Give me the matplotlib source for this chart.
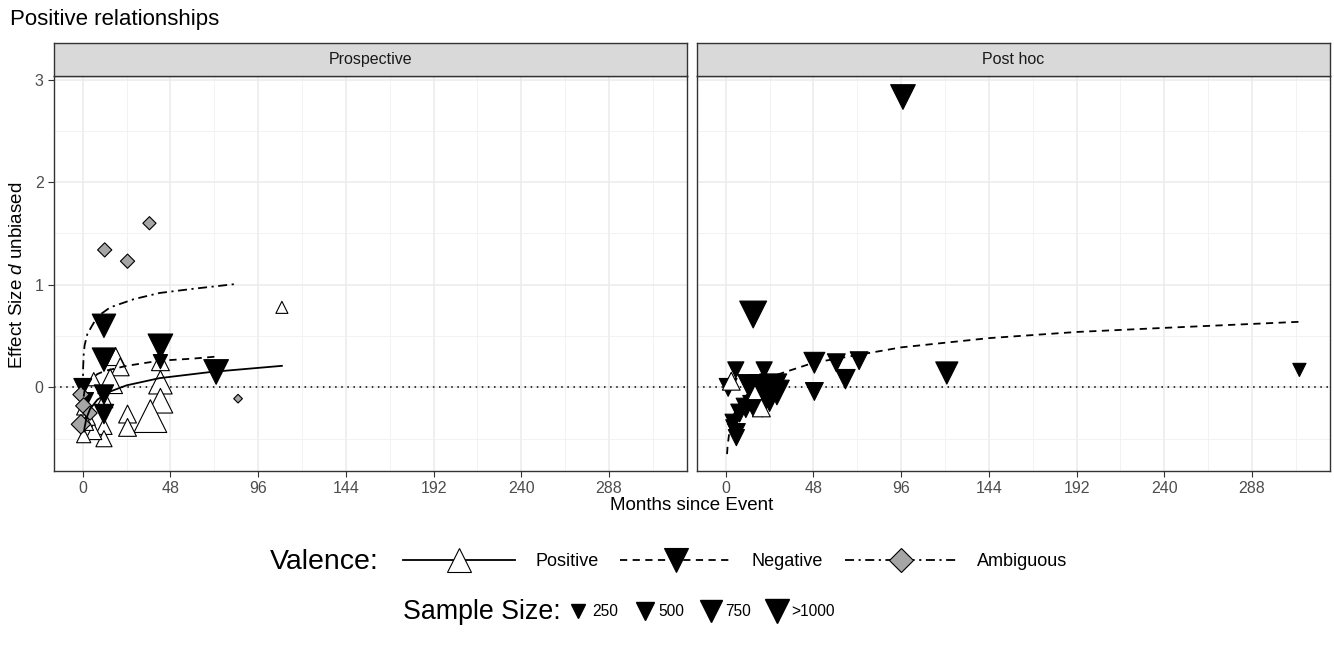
import numpy as np
import matplotlib.pyplot as plt
from matplotlib.lines import Line2D

plt.rcParams['font.family'] = ['Liberation Sans', 'DejaVu Sans']
plt.rcParams['mathtext.fontset'] = 'custom'
plt.rcParams['mathtext.rm'] = 'Liberation Sans'
plt.rcParams['mathtext.it'] = 'Liberation Sans:italic'

# ---- data (months since event, effect size d, sample size) ----
# Prospective
pro_pos_m = [109, 42.5, 42.5, 42.5, 37, 24.5, 24.5, 18, 20.5, 15, 6, 11.6, 11.6, 6, 0.5, 3, 12, 0.5, 2]
pro_pos_d = [0.78, 0.05, -0.13, 0.25, -0.28, -0.26, -0.39, 0.30, 0.20, 0.06, 0.08, -0.38, -0.50, -0.43, -0.47, -0.30, -0.12, -0.20, -0.35]
pro_pos_n = [200, 900, 1000, 500, 1800, 500, 500, 500, 500, 1000, 250, 400, 400, 400, 300, 300, 400, 300, 300]

pro_neg_m = [11.6, 11.6, 42.5, 42.5, 11.6, 11.6, 0, 73, 2]
pro_neg_d = [0.60, 0.27, 0.40, 0.25, -0.07, -0.26, 0.0, 0.15, -0.12]
pro_neg_n = [900, 900, 1000, 300, 600, 600, 500, 1000, 300]

pro_amb_m = [12, 24.5, 36.5, 85, -1, 0.5, -1, 4]
pro_amb_d = [1.34, 1.23, 1.60, -0.11, -0.07, -0.18, -0.36, -0.25]
pro_amb_n = [300, 300, 250, 80, 400, 400, 600, 300]

# Post hoc
ph_pos_m = [3, 19.5, 16]
ph_pos_d = [0.06, -0.20, -0.05]
ph_pos_n = [500, 500, 300]

ph_neg_m = [97, 15, 48.5, 48.5, 60.5, 65.5, 73, 121, 5.5, 1.3, 21, 13, 19, 26, 28, 24,
            20, 15, 11, 7.6, 4, 5.8, 5.8, 3.6, 314]
ph_neg_d = [2.83, 0.71, 0.24, -0.04, 0.24, 0.08, 0.26, 0.14, 0.17, 0.0, 0.17, 0.01, 0.01, 0.0, -0.05, -0.12,
            -0.18, -0.18, -0.20, -0.25, -0.34, -0.44, -0.49, -0.38, 0.17]
ph_neg_n = [1000, 1200, 700, 500, 500, 600, 500, 800, 400, 500, 400, 900, 900, 1200, 1000, 900,
            800, 700, 600, 500, 400, 500, 400, 250, 250]

# fitted curves
pro_pos_fit_m = [0.7, 1, 2, 4, 8, 15, 24, 42, 70, 109]
pro_pos_fit_d = [-0.43, -0.39, -0.30, -0.21, -0.12, -0.04, 0.02, 0.09, 0.15, 0.21]
pro_neg_fit_m = [0.5, 1, 2, 4, 8, 12, 24, 42, 60, 73]
pro_neg_fit_d = [-0.09, -0.03, 0.02, 0.07, 0.13, 0.16, 0.21, 0.26, 0.28, 0.30]
pro_amb_fit_m = [0.05, 0.2, 0.5, 1, 2.5, 4.4, 8, 15, 28, 42, 60, 85]
pro_amb_fit_d = [-0.02, 0.19, 0.32, 0.41, 0.52, 0.58, 0.69, 0.78, 0.86, 0.92, 0.96, 1.01]
ph_neg_fit_m = [0.7, 1, 2, 4, 8, 16, 24, 48, 96, 144, 192, 240, 315]
ph_neg_fit_d = [-0.65, -0.57, -0.43, -0.28, -0.14, 0.01, 0.10, 0.24, 0.39, 0.48, 0.54, 0.58, 0.64]

legend_sizes = [250, 500, 750, 1000]
legend_size_labels = ['250', '500', '750', '>1000']

W, H = 1334, 653


def box(x0, y0, x1, y1):
    return [x0 / W, 1 - y1 / H, (x1 - x0) / W, (y1 - y0) / H]


def area(n):
    return 0.3 * np.asarray(n) + 15


fig = plt.figure(figsize=(W / 100, H / 100), dpi=100)

panels = [
    ('Prospective', 54, dict(pos=(pro_pos_m, pro_pos_d, pro_pos_n),
                            neg=(pro_neg_m, pro_neg_d, pro_neg_n),
                            amb=(pro_amb_m, pro_amb_d, pro_amb_n)),
     [(pro_pos_fit_m, pro_pos_fit_d, '-'),
      (pro_neg_fit_m, pro_neg_fit_d, (0, (4, 3))),
      (pro_amb_fit_m, pro_amb_fit_d, (0, (5, 2.5, 1.2, 2.5)))], 3),
    ('Post hoc', 697, dict(pos=(ph_pos_m, ph_pos_d, ph_pos_n),
                          neg=(ph_neg_m, ph_neg_d, ph_neg_n)),
     [(ph_neg_fit_m, ph_neg_fit_d, (0, (4, 3)))], 4.5),
]

for i, (name, x0, pts, fits, pos_z) in enumerate(panels):
    ax = fig.add_axes(box(x0, 76, x0 + 633, 471))
    ax.set_xlim(-15.75, 330.75)
    ax.set_ylim(-0.815, 3.035)
    ax.set_xticks(np.arange(0, 289, 48))
    ax.set_xticks(np.arange(24, 330, 48), minor=True)
    ax.set_yticks([0, 1, 2, 3])
    ax.set_yticks([-0.5, 0.5, 1.5, 2.5], minor=True)
    ax.grid(which='major', color='#EBEBEB', lw=1.1, zorder=0)
    ax.grid(which='minor', color='#F0F0F0', lw=0.6, zorder=0)
    ax.set_axisbelow(True)
    ax.tick_params(which='minor', length=0)
    ax.tick_params(which='major', length=4, color='#333333', labelcolor='#4D4D4D',
                   labelsize=11.5, width=0.8)
    for s in ax.spines.values():
        s.set_color('#333333')
        s.set_linewidth(1.0)
    if i > 0:
        ax.tick_params(axis='y', left=False, labelleft=False)

    ax.axhline(0, color='black', lw=1.1, ls=(0, (1, 3)), zorder=2)

    m, d, n = pts['pos']
    ax.scatter(m, d, s=area(n), marker='^', facecolor='white', edgecolor='black',
               linewidth=0.8, zorder=pos_z)
    m, d, n = pts['neg']
    ax.scatter(m, d, s=area(n), marker='v', facecolor='black', edgecolor='black',
               linewidth=0.8, zorder=4)
    if 'amb' in pts:
        m, d, n = pts['amb']
        ax.scatter(m, d, s=0.5 * area(n), marker='D', facecolor='#A6A6A6', edgecolor='black',
                   linewidth=0.8, zorder=5)

    for fm, fd, ls in fits:
        ax.plot(fm, fd, color='black', lw=1.3, ls=ls, zorder=6)

    # facet strip
    sax = fig.add_axes(box(x0, 43, x0 + 633, 76))
    sax.set_facecolor('#D9D9D9')
    sax.set_xticks([])
    sax.set_yticks([])
    for s in sax.spines.values():
        s.set_color('#333333')
        s.set_linewidth(1.0)
    sax.text(0.5, 0.5, name, ha='center', va='center', fontsize=11.5, color='#1A1A1A',
             transform=sax.transAxes)

fig.text(10 / W, 1 - 19 / H, 'Positive relationships', fontsize=16, va='center', ha='left')
fig.text(18 / W, 1 - 275 / H, 'Effect Size $\\it{d}$ unbiased', fontsize=13.5, rotation=90,
         va='center', ha='center')
fig.text(692 / W, 1 - 506 / H, 'Months since Event', fontsize=13.5, va='center', ha='center')

# valence legend
fig.text(270 / W, 1 - 562 / H, 'Valence:', fontsize=20.5, va='center', ha='left')
val_handles = [
    Line2D([], [], color='black', lw=1.3, ls='-', marker='^', markersize=17,
           mfc='white', mec='black', mew=0.8),
    Line2D([], [], color='black', lw=1.3, ls=(0, (4, 3)), marker='v', markersize=17,
           mfc='black', mec='black', mew=0.8),
    Line2D([], [], color='black', lw=1.3, ls=(0, (5, 2.5, 1.2, 2.5)), marker='D', markersize=12,
           mfc='#A6A6A6', mec='black', mew=0.8),
]
fig.legend(val_handles, ['Positive', 'Negative', 'Ambiguous'], loc='center left',
           bbox_to_anchor=(387 / W, 1 - 562 / H), ncol=3, frameon=False, fontsize=13,
           handlelength=6.2, columnspacing=1.2, handletextpad=1.1)

# sample size legend
fig.text(403 / W, 1 - 612 / H, 'Sample Size:', fontsize=19.3, va='center', ha='left')
size_handles = [Line2D([], [], ls='none', marker='v', markersize=np.sqrt(area(n)),
                       mfc='black', mec='black') for n in legend_sizes]
fig.legend(size_handles, legend_size_labels, loc='center left',
           bbox_to_anchor=(555 / W, 1 - 612 / H), ncol=4, frameon=False, fontsize=11.2,
           handlelength=1.2, columnspacing=1.1, handletextpad=0.3)

fig.savefig('out.png', dpi=100)
